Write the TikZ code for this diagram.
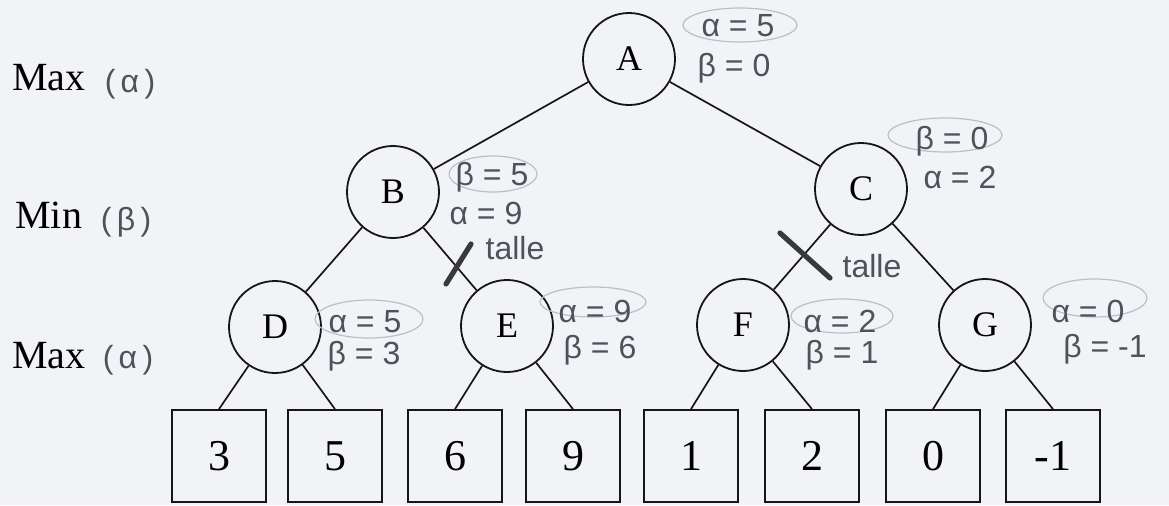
\documentclass[tikz,border=0pt]{standalone}
\usepackage{fontspec}
\setmainfont{Liberation Serif}
\newfontfamily\handfont{Liberation Sans}
\definecolor{paper}{RGB}{242,243,247}
\definecolor{ink}{RGB}{22,22,25}
\definecolor{pencil}{RGB}{78,82,90}
\definecolor{halo}{RGB}{188,191,198}
\begin{document}
\begin{tikzpicture}[x=0.5pt,y=-0.5pt,
  state/.style={circle,draw=ink,line width=0.9pt,fill=paper,minimum size=46pt,inner sep=0pt,
    font=\fontsize{18}{20}\selectfont},
  leaf/.style={rectangle,draw=ink,line width=0.9pt,fill=paper,minimum width=47pt,minimum height=46pt,
    inner sep=0pt,font=\fontsize{22}{24}\selectfont},
  edge/.style={draw=ink,line width=0.85pt},
  note/.style={text=pencil,font=\handfont\fontsize{16}{18}\selectfont,inner sep=0pt},
  halo/.style={draw=halo,line width=0.6pt},
  cut/.style={draw=pencil!70!black,line width=2.6pt,line cap=round},
  level/.style={font=\fontsize{20}{22}\selectfont,inner sep=0pt,anchor=base west}]

% paper
\fill[paper] (0,0) rectangle (1169,505);
\useasboundingbox (0,0) rectangle (1169,505);

% level labels
\node[level] (lv1) at (12,90) {Max};
\node[note] (lv1g) at (130,84) {(\,α\,)};
\node[level] (lv2) at (15,228) {Min};
\node[note] (lv2g) at (126,222) {(\,β\,)};
\node[level] (lv3) at (12,368) {Max};
\node[note] (lv3g) at (128,360) {(\,α\,)};

% tree nodes
\node[state] (A) at (629,59) {A};
\node[state] (B) at (393,192) {B};
\node[state] (C) at (861,189) {C};
\node[state] (D) at (275,327) {D};
\node[state] (E) at (507,326) {E};
\node[state] (F) at (743,325) {F};
\node[state] (G) at (985,325) {G};

% leaves
\node[leaf] (l1) at (219,456) {3};
\node[leaf] (l2) at (335,456) {5};
\node[leaf] (l3) at (455,456) {6};
\node[leaf] (l4) at (573,456) {9};
\node[leaf] (l5) at (691,456) {1};
\node[leaf] (l6) at (812,456) {2};
\node[leaf] (l7) at (933,456) {0};
\node[leaf] (l8) at (1053,456) {-1};

% edges
\draw[edge] (A) -- (B);
\draw[edge] (A) -- (C);
\draw[edge] (B) -- (D);
\draw[edge] (B) -- (E);
\draw[edge] (C) -- (F);
\draw[edge] (C) -- (G);
\draw[edge] (D) -- (l1.north);
\draw[edge] (D) -- (l2.north);
\draw[edge] (E) -- (l3.north);
\draw[edge] (E) -- (l4.north);
\draw[edge] (F) -- (l5.north);
\draw[edge] (F) -- (l6.north);
\draw[edge] (G) -- (l7.north);
\draw[edge] (G) -- (l8.north);

% circled values
\draw[halo] (740,25) ellipse (57 and 17);
\draw[halo] (493,174) ellipse (44 and 18);
\draw[halo] (945,135) ellipse (57 and 17);
\draw[halo] (369,319) ellipse (54 and 19);
\draw[halo] (593,302) ellipse (53 and 15);
\draw[halo] (842,316) ellipse (51 and 17);
\draw[halo] (1095,298) ellipse (52 and 19);

% alpha / beta values
\node[note] (nA1) at (738,26) {α = 5};
\node[note] (nA2) at (734,68) {β = 0};
\node[note] (nB1) at (492,177) {β = 5};
\node[note] (nB2) at (486,213) {α = 9};
\node[note] (nC1) at (952,141) {β = 0};
\node[note] (nC2) at (960,177) {α = 2};
\node[note] (nD1) at (365,322) {α = 5};
\node[note] (nD2) at (364,356) {β = 3};
\node[note] (nE1) at (595,311) {α = 9};
\node[note] (nE2) at (600,350) {β = 6};
\node[note] (nF1) at (840,321) {α = 2};
\node[note] (nF2) at (842,355) {β = 1};
\node[note] (nG1) at (1088,311) {α = 0};
\node[note] (nG2) at (1105,349) {β = -1};

% pruned branches
\coordinate (cutB1) at (446,284);
\coordinate (cutB2) at (471,244);
\draw[cut] (cutB1) -- (cutB2);
\node[note] (tB) at (515,248) {talle};
\coordinate (cutC1) at (780,233);
\coordinate (cutC2) at (830,278);
\draw[cut] (cutC1) -- (cutC2);
\node[note] (tC) at (872,266) {talle};
\end{tikzpicture}
\end{document}
